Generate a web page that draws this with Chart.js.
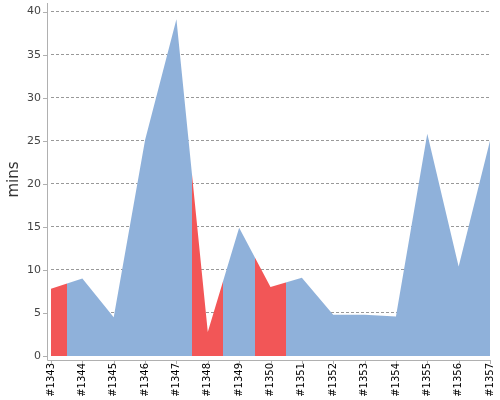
<!DOCTYPE html>
<html>
<head>
<meta charset="utf-8">
<script src="https://cdn.jsdelivr.net/npm/chart.js@4/dist/chart.umd.min.js"></script>
<style>
  html, body { margin: 0; padding: 0; background: #fff; }
  #wrap { width: 500px; height: 400px; }
</style>
</head>
<body>
<div id="wrap"><canvas id="trend"></canvas></div>
<script>
// ─── Data ────────────────────────────────────────────────────────────────────
const builds = ["#1343", "#1344", "#1345", "#1346", "#1347", "#1348", "#1349", "#1350",
                "#1351", "#1352", "#1353", "#1354", "#1355", "#1356", "#1357"];
const durationMins = [7.8, 9.0, 4.5, 25.1, 39.1, 2.8, 14.9, 8.0,
                      9.1, 4.8, 4.8, 4.6, 25.8, 10.4, 25.0];
const buildStatus = ["FAILURE", "SUCCESS", "SUCCESS", "SUCCESS", "SUCCESS", "FAILURE", "SUCCESS", "FAILURE",
                     "SUCCESS", "SUCCESS", "SUCCESS", "SUCCESS", "SUCCESS", "SUCCESS", "SUCCESS"];
const yTicks = [0, 5, 10, 15, 20, 25, 30, 35, 40];

// ─── Style ───────────────────────────────────────────────────────────────────
const COLORS = { SUCCESS: "#8fb1da", FAILURE: "#f25657" };
const AXIS_GRAY = "#b0b0b0";
const AXIS_GAP  = 4;   // axis lines sit a few px off the data area

// fill: each build owns the band between the midpoints to its neighbours
function statusGradient(ctx) {
    const chart = ctx.chart;
    const area = chart.chartArea;
    if (!area) return COLORS.SUCCESS;
    const x = chart.scales.x;
    const g = chart.ctx.createLinearGradient(area.left, 0, area.right, 0);
    const w = area.right - area.left;
    const frac = px => Math.min(1, Math.max(0, (px - area.left) / w));
    builds.forEach((_, i) => {
        const c  = x.getPixelForValue(i);
        const lo = i === 0 ? area.left : (c + x.getPixelForValue(i - 1)) / 2;
        const hi = i === builds.length - 1 ? area.right : (c + x.getPixelForValue(i + 1)) / 2;
        const col = COLORS[buildStatus[i]];
        g.addColorStop(frac(lo), col);
        g.addColorStop(frac(hi), col);
    });
    return g;
}

const axisLines = {
    id: "axisLines",
    afterDraw(chart) {
        const { ctx: c, chartArea: { left, right, top, bottom }, scales: { x, y } } = chart;
        const ax = left - AXIS_GAP, ay = bottom + AXIS_GAP;
        c.save();
        c.strokeStyle = AXIS_GRAY;
        c.lineWidth = 1;
        c.beginPath();
        c.moveTo(ax + 0.5, top);
        c.lineTo(ax + 0.5, ay + 0.5);
        c.lineTo(right + 1, ay + 0.5);
        yTicks.forEach(v => {
            const py = Math.round(y.getPixelForValue(v)) + 0.5;
            c.moveTo(ax - 4, py);
            c.lineTo(ax, py);
        });
        builds.forEach((_, i) => {
            const px = Math.round(x.getPixelForValue(i)) + 0.5;
            c.moveTo(px, ay);
            c.lineTo(px, ay + 4);
        });
        c.stroke();
        c.restore();
    }
};

new Chart(document.getElementById("trend"), {
    type: "line",
    plugins: [axisLines],
    data: {
        labels: builds,
        datasets: [{
            label: "Build duration",
            data: durationMins,
            fill: "origin",
            backgroundColor: statusGradient,
            borderWidth: 0,
            pointRadius: 0,
            tension: 0,
        }]
    },
    options: {
        responsive: true,
        maintainAspectRatio: false,
        animation: false,
        layout: { padding: { left: 1, right: 10, top: 3, bottom: 0 } },
        scales: {
            x: {
                offset: false,
                afterFit: axis => {
                    axis.height = 44;
                    axis.paddingLeft = 0;
                    axis.paddingRight = 0;
                },
                grid: { display: false, drawTicks: false },
                border: { display: false },
                ticks: {
                    autoSkip: false,
                    minRotation: 90,
                    maxRotation: 90,
                    padding: 7,
                    color: "#000",
                    font: { family: "DejaVu Sans", size: 10 }
                }
            },
            y: {
                min: 0,
                max: 41,
                afterBuildTicks: axis => { axis.ticks = yTicks.map(v => ({ value: v })); },
                afterFit: axis => {
                    axis.width = 50;
                    axis.paddingTop = 0;
                    axis.paddingBottom = 0;
                },
                grid: {
                    color: ctx => ctx.tick && ctx.tick.value === 0 ? "rgba(0,0,0,0)" : "#999",
                    drawTicks: false,
                    lineWidth: 1
                },
                border: { display: false, dash: [3, 2] },
                ticks: {
                    padding: 10,
                    color: "#444",
                    font: { family: "DejaVu Sans", size: 11 }
                },
                title: {
                    display: true,
                    text: "mins",
                    color: "#333",
                    padding: { top: 4, bottom: 0 },
                    font: { family: "DejaVu Sans", size: 15 }
                }
            }
        },
        plugins: {
            legend: { display: false },
            tooltip: { enabled: false }
        }
    }
});
</script>
</body>
</html>
